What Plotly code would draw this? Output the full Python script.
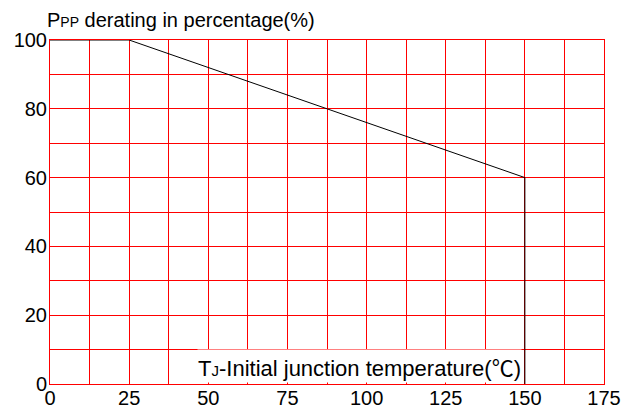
import plotly.graph_objects as go

# Data
temperature = [0, 25, 150, 150]
derating_pct = [100, 100, 60, 0]
x_ticks = [0, 25, 50, 75, 100, 125, 150, 175]
y_ticks = [0, 20, 40, 60, 80, 100]
y_title = "P<span style='font-size:14px'>PP</span> derating in percentage(%)"
x_title = "T<span style='font-size:15px'>J</span>-Initial junction temperature(<span style='font-family:Noto Sans CJK SC'>℃</span>)"

FONT = "Liberation Sans, Arial, Noto Sans CJK SC, sans-serif"
W, H = 638, 410
L, R, T, B = 50, 34, 40, 26

fig = go.Figure()
fig.add_trace(go.Scatter(
    x=temperature, y=derating_pct, mode="lines",
    line=dict(color="black", width=1), cliponaxis=False, showlegend=False,
    hoverinfo="skip",
))

axis_common = dict(
    showline=True, mirror=True, linecolor="#ff0000", linewidth=1,
    showgrid=True, gridcolor="#ff0000", gridwidth=1,
    zeroline=False, ticks="", automargin=False,
    tickfont=dict(family=FONT, size=20, color="black"),
)
fig.update_xaxes(
    range=[0, 175], tickvals=x_ticks, ticktext=[str(v) for v in x_ticks],
    minor=dict(dtick=12.5, tick0=0, showgrid=True, gridcolor="#ff0000", gridwidth=1),
    ticklabelstandoff=-4,
    **axis_common,
)
fig.update_yaxes(
    range=[0, 100], tickvals=y_ticks, ticktext=[str(v) for v in y_ticks],
    minor=dict(dtick=10, tick0=0, showgrid=True, gridcolor="#ff0000", gridwidth=1),
    ticklabelstandoff=-2,
    **axis_common,
)

pw, ph = W - L - R, H - T - B
fig.add_annotation(
    text=x_title, xref="paper", yref="paper",
    x=(522 - L) / pw, y=1.5 / ph, xanchor="right", yanchor="bottom",
    showarrow=False, font=dict(family=FONT, size=22, color="black"),
    bgcolor="white", borderpad=0,
)

fig.update_layout(
    width=W, height=H, margin=dict(l=L, r=R, t=T, b=B, autoexpand=False),
    paper_bgcolor="white", plot_bgcolor="white",
    font=dict(family=FONT, color="black"),
    title=dict(
        text=y_title, xref="container", yref="container",
        x=47 / W, xanchor="left", y=1 - 20 / H, yanchor="middle",
        font=dict(family=FONT, size=20, color="black"),
    ),
)
fig.write_html("out.html")
